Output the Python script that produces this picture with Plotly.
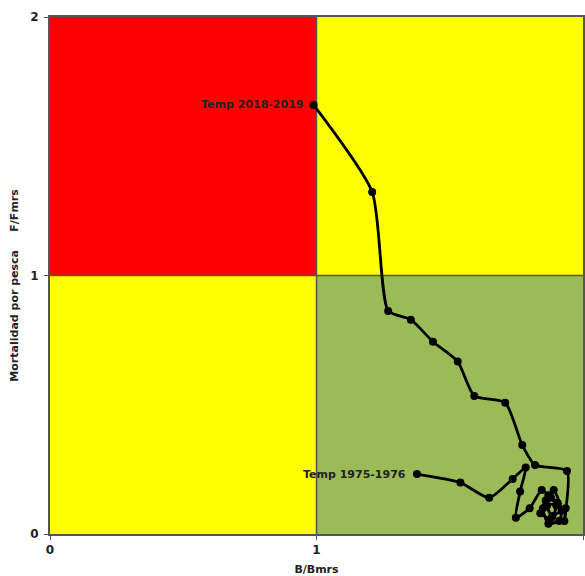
import plotly.graph_objects as go

# Stock status trajectory, seasons 1975-1976 to 2018-2019
b_ratio = [1.377, 1.540, 1.648, 1.736, 1.785, 1.764, 1.748, 1.800, 1.845, 1.870,
           1.900, 1.880, 1.840, 1.860, 1.890, 1.920, 1.910, 1.870, 1.850, 1.880,
           1.905, 1.865, 1.885, 1.935, 1.930, 1.940, 1.820, 1.772, 1.708, 1.592,
           1.530, 1.437, 1.354, 1.269, 1.209, 0.989]
f_ratio = [0.232, 0.199, 0.140, 0.213, 0.257, 0.164, 0.063, 0.100, 0.170, 0.150,
           0.110, 0.060, 0.080, 0.130, 0.170, 0.090, 0.050, 0.040, 0.100, 0.140,
           0.120, 0.110, 0.070, 0.100, 0.050, 0.244, 0.267, 0.344, 0.508, 0.534,
           0.667, 0.744, 0.829, 0.863, 1.323, 1.660]
first_label = "Temp 1975-1976"
last_label = "Temp 2018-2019"

x_ticks = [0, 1, 2]
y_ticks = [0, 1, 2]
x_title = "B/Bmrs"
y_title_main = "Mortalidad por pesca"
y_title_unit = "F/Fmrs"

FONT = "'DejaVu Sans', Arial, sans-serif"
RED = "#FF0000"
YELLOW = "#FFFF00"
GREEN = "#9BBB59"
EDGE = "#555555"
TEXT = "#222222"

fig = go.Figure()

# Quadrant backgrounds
quadrants = [
    (0, 1, 1, 2, RED),
    (1, 2, 1, 2, YELLOW),
    (0, 1, 0, 1, YELLOW),
    (1, 2, 0, 1, GREEN),
]
for x0, x1, y0, y1, col in quadrants:
    fig.add_shape(type="rect", xref="x", yref="y", x0=x0, x1=x1, y0=y0, y1=y1,
                  fillcolor=col, line=dict(width=0), layer="below")

# Reference lines at B/Bmrs = 1 and F/Fmrs = 1
fig.add_shape(type="line", xref="x", yref="y", x0=1, x1=1, y0=0, y1=2,
              line=dict(color=EDGE, width=1.5), layer="below")
fig.add_shape(type="line", xref="x", yref="y", x0=0, x1=2, y0=1, y1=1,
              line=dict(color=EDGE, width=1.5), layer="below")

fig.add_trace(go.Scatter(
    x=b_ratio, y=f_ratio, mode="lines+markers",
    line=dict(color="black", width=2.8, shape="spline", smoothing=0.6),
    marker=dict(color="black", size=8),
    hoverinfo="x+y", showlegend=False,
))

for xv, yv, txt in [(b_ratio[0], f_ratio[0], first_label),
                    (b_ratio[-1], f_ratio[-1], last_label)]:
    fig.add_annotation(x=xv, y=yv, xref="x", yref="y", text=txt,
                       showarrow=False, xanchor="right", yanchor="middle", xshift=-9,
                       font=dict(family=FONT, size=11, color=TEXT, weight="bold"))

# Y axis title in two pieces
fig.add_annotation(xref="paper", yref="paper", x=-0.066, y=0.422, text=y_title_main,
                   textangle=-90, showarrow=False, xanchor="center", yanchor="middle",
                   font=dict(family=FONT, size=11, color=TEXT, weight="bold"))
fig.add_annotation(xref="paper", yref="paper", x=-0.066, y=0.627, text=y_title_unit,
                   textangle=-90, showarrow=False, xanchor="center", yanchor="middle",
                   font=dict(family=FONT, size=11, color=TEXT, weight="bold"))

axis_common = dict(
    showgrid=False, zeroline=False, showline=True, mirror=True,
    linecolor=EDGE, linewidth=2, ticks="outside", ticklen=4, tickcolor=EDGE,
    tickfont=dict(family=FONT, size=12, color=TEXT, weight="bold"),
    fixedrange=True,
)

fig.update_xaxes(range=[0, 2], tickvals=x_ticks, ticktext=[str(t) for t in x_ticks],
                 title=dict(text=x_title, standoff=9,
                            font=dict(family=FONT, size=11, color=TEXT, weight="bold")),
                 **axis_common)
fig.update_yaxes(range=[0, 2], tickvals=y_ticks, ticktext=[str(t) for t in y_ticks],
                 ticklabelstandoff=3, **axis_common)

fig.update_layout(
    width=585, height=576,
    margin=dict(l=50, r=0, t=17, b=42),
    paper_bgcolor="white", plot_bgcolor="white",
)

fig.write_html("out.html")
